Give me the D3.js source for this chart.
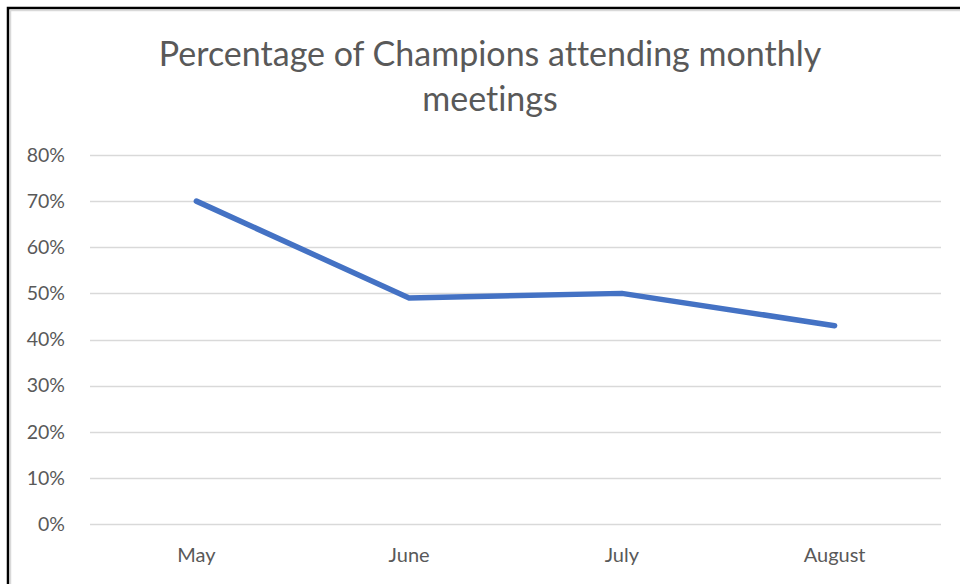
<!DOCTYPE html>
<html>
<head>
<meta charset="utf-8">
<script src="https://cdn.jsdelivr.net/npm/d3@7"></script>
<style>
  body { margin: 0; background: #fff; }
  svg { display: block; }
  text { font-variant-ligatures: none; }
</style>
</head>
<body>
<div id="chart"></div>
<script>
var months = ["May", "June", "July", "August"];
var attendance = [0.70, 0.49, 0.50, 0.43];
var yTicks = [0, 0.1, 0.2, 0.3, 0.4, 0.5, 0.6, 0.7, 0.8];
var titleLines = ["Percentage of Champions attending monthly", "meetings"];

var width = 960, height = 584;
var plotLeft = 90, plotRight = 941, plotTop = 155, plotBottom = 524;
var textColor = "#595959";
var fontFamily = "Lato, Calibri, sans-serif";

var svg = d3.select("#chart").append("svg")
  .attr("width", width)
  .attr("height", height);

// outer frame (only top and left edges show in the crop)
svg.append("rect")
  .attr("x", 8).attr("y", 8)
  .attr("width", width + 20).attr("height", height + 20)
  .attr("fill", "#fff")
  .attr("stroke", "#000")
  .attr("stroke-width", 2.5);
svg.append("path")
  .attr("d", "M10.5," + (height + 10) + "V10.5H" + (width + 10))
  .attr("fill", "none")
  .attr("stroke", "#d9d9d9")
  .attr("stroke-width", 1.5);

var x = d3.scaleBand()
  .domain(months)
  .range([plotLeft, plotRight]);

var y = d3.scaleLinear()
  .domain([0, 0.8])
  .range([plotBottom, plotTop]);

// gridlines
svg.append("g").selectAll("line")
  .data(yTicks)
  .enter().append("line")
  .attr("x1", plotLeft).attr("x2", plotRight)
  .attr("y1", function (d) { return Math.round(y(d)) + 0.5; })
  .attr("y2", function (d) { return Math.round(y(d)) + 0.5; })
  .attr("stroke", "#d9d9d9")
  .attr("stroke-width", 1.5);

// y axis labels
var yAxis = svg.append("g")
  .attr("transform", "translate(" + (plotLeft - 22) + ",0)")
  .call(d3.axisLeft(y).tickValues(yTicks).tickFormat(d3.format(".0%")).tickSize(0));
yAxis.select(".domain").remove();
yAxis.selectAll("text")
  .attr("fill", textColor)
  .attr("font-family", fontFamily)
  .attr("font-size", 19.5)
  .attr("dx", 0);

// x axis labels
var xAxis = svg.append("g")
  .attr("transform", "translate(0," + (plotBottom + 21) + ")")
  .call(d3.axisBottom(x).tickSize(0));
xAxis.select(".domain").remove();
xAxis.selectAll("text")
  .attr("fill", textColor)
  .attr("font-family", fontFamily)
  .attr("font-size", 20);

// the line
var line = d3.line()
  .x(function (d, i) { return x(months[i]) + x.bandwidth() / 2; })
  .y(function (d) { return y(d); });

svg.append("path")
  .datum(attendance)
  .attr("d", line)
  .attr("fill", "none")
  .attr("stroke", "#4472c4")
  .attr("stroke-width", 5.5)
  .attr("stroke-linejoin", "round")
  .attr("stroke-linecap", "round");

// title
svg.append("g").selectAll("text")
  .data(titleLines)
  .enter().append("text")
  .attr("x", 490)
  .attr("y", function (d, i) { return 66 + i * 45; })
  .attr("text-anchor", "middle")
  .attr("fill", textColor)
  .attr("font-family", fontFamily)
  .attr("font-size", 34)
  .text(function (d) { return d; });
</script>
</body>
</html>
